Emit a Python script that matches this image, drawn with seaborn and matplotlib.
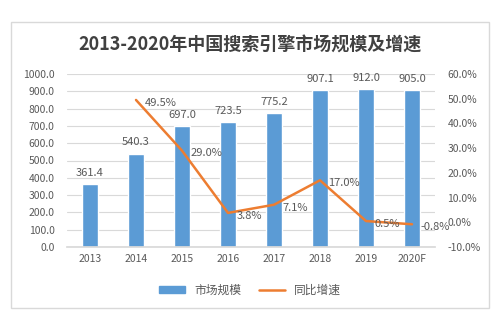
import matplotlib
matplotlib.use("Agg")
import matplotlib.pyplot as plt
import seaborn as sns
import numpy as np
import pandas as pd
from matplotlib.patches import Rectangle
from matplotlib.lines import Line2D

years = ["2013", "2014", "2015", "2016", "2017", "2018", "2019", "2020F"]
market = [361.4, 540.3, 697.0, 723.5, 775.2, 907.1, 912.0, 905.0]
growth_years = ["2014", "2015", "2016", "2017", "2018", "2019", "2020F"]
growth = [49.5, 29.0, 3.8, 7.1, 17.0, 0.5, -0.8]
title = "2013-2020年中国搜索引擎市场规模及增速"

sns.set_theme(style="white")
plt.rcParams['font.family'] = ['Noto Sans CJK SC', 'DejaVu Sans']

BLUE = "#5B9BD5"
ORANGE = "#ED7D31"
GREY = "#595959"

fig = plt.figure(figsize=(5.0, 3.31), dpi=100)
fig.patches.append(Rectangle((11/500, 1-308/331), 478/500, 286/331, transform=fig.transFigure,
                             fill=False, edgecolor="#D9D9D9", linewidth=1.0))
ax = fig.add_axes([67/500, 1-247/331, 368/500, 173/331])

df = pd.DataFrame({"year": years, "market": market})
sns.barplot(data=df, x="year", y="market", color=BLUE, width=0.33, ax=ax, saturation=1)
ax.set_ylim(0, 1000)
ax.set_yticks(np.arange(0, 1001, 100))
ax.set_yticklabels([f"{v:.1f}" for v in np.arange(0, 1001, 100)])
ax.set_xlim(-0.5, len(years) - 0.5)
ax.grid(axis="y", color="#D9D9D9", linewidth=0.8)
ax.set_axisbelow(True)
for s in ["top", "left", "right"]:
    ax.spines[s].set_visible(False)
ax.spines["bottom"].set_color("#D9D9D9")
ax.set_xlabel("")
ax.set_ylabel("")
ax.tick_params(axis="x", labelsize=7.5, colors=GREY, length=0, pad=5)
ax.tick_params(axis="y", labelsize=7.5, colors=GREY, length=0, pad=9)
for i, v in enumerate(market):
    ax.text(i, v + 35, f"{v:.1f}", ha="center", va="bottom", fontsize=8, color=GREY)

ax2 = ax.twinx()
pos = [years.index(y) for y in growth_years]
gdf = pd.DataFrame({"pos": pos, "growth": growth})
sns.lineplot(data=gdf, x="pos", y="growth", color=ORANGE, linewidth=1.8, ax=ax2)
ax2.set_ylim(-10, 60)
ax2.set_yticks(np.arange(-10, 61, 10))
ax2.set_yticklabels([f"{v:.1f}%" for v in np.arange(-10, 61, 10)])
ax2.set_xlim(-0.5, len(years) - 0.5)
for s in ["top", "left", "right", "bottom"]:
    ax2.spines[s].set_visible(False)
ax2.set_ylabel("")
ax2.set_xlabel("")
ax2.tick_params(axis="y", labelsize=7.5, colors=GREY, length=0, pad=9)
for p, g in zip(pos, growth):
    ax2.annotate(f"{g:.1f}%", (p, g), xytext=(6, -2), textcoords="offset points",
                 ha="left", va="center", fontsize=8, color=GREY)

fig.text(0.5, 1-45/331, title, ha="center", va="center", fontsize=13, fontweight="bold", color="#404040")

handles = [Rectangle((0, 0), 1, 1, color=BLUE), Line2D([0], [0], color=ORANGE, linewidth=1.8)]
fig.legend(handles, ["市场规模", "同比增速"], loc="center", bbox_to_anchor=(0.5, 1-290/331),
           ncol=2, frameon=False, fontsize=8.5, handlelength=2.2, handleheight=0.5,
           columnspacing=1.5, labelcolor=GREY)

fig.savefig("out.png", dpi=100)
